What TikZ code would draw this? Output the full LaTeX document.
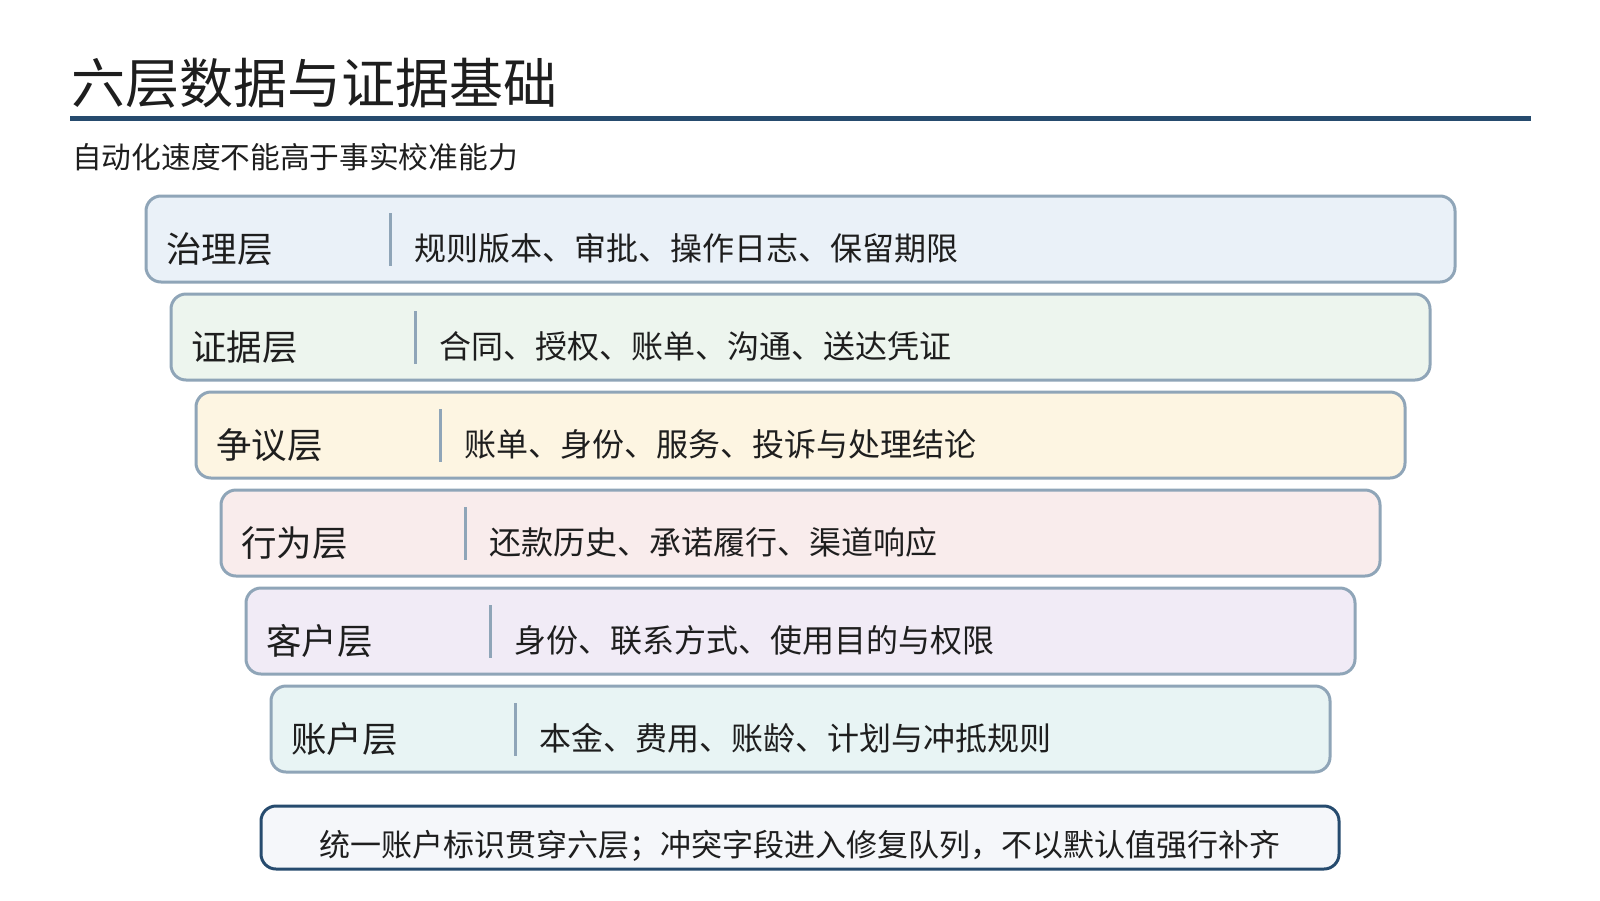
\documentclass[tikz,border=0pt]{standalone}
\usepackage{fontspec}
\newfontfamily\cjk{Noto Sans CJK SC}
\definecolor{rulec}{HTML}{264B6E}
\definecolor{edgec}{HTML}{8FA5B8}
\definecolor{txt}{HTML}{1E1E1E}
\definecolor{f1}{HTML}{EAF1F8}
\definecolor{f2}{HTML}{EDF5EE}
\definecolor{f3}{HTML}{FDF5E2}
\definecolor{f4}{HTML}{F9ECEC}
\definecolor{f5}{HTML}{F1EBF6}
\definecolor{f6}{HTML}{E8F4F4}
\definecolor{fb}{HTML}{F5F7FA}
\tikzset{
  layerbox/.style={draw=edgec, line width=3pt, rounded corners=15pt, inner sep=0pt, outer sep=0pt, anchor=north west, minimum height=86pt},
  labeltxt/.style={font=\cjk\fontsize{35.5}{40}\selectfont, text=txt, inner sep=0pt, anchor=base west},
  contenttxt/.style={font=\cjk\fontsize{32}{38}\selectfont, text=txt, inner sep=0pt, anchor=base west},
  divline/.style={draw=edgec, line width=3pt},
}
\begin{document}
\begin{tikzpicture}[x=1pt,y=-1pt]
\useasboundingbox (0,0) rectangle (1600,900);
\fill[white] (0,0) rectangle (1600,900);
% title
\node[font=\cjk\fontsize{54}{64}\selectfont, text=txt, inner sep=0pt, anchor=base west] (title) at (71,103.5) {六层数据与证据基础};
\coordinate (ruleL) at (70,118.5);
\coordinate (ruleR) at (1531,118.5);
\draw[rulec, line width=5pt] (ruleL) -- (ruleR);
\node[font=\cjk\fontsize{29.7}{36}\selectfont, text=txt, inner sep=0pt, anchor=base west] (subtitle) at (72,168) {自动化速度不能高于事实校准能力};
% layers
\foreach \i/\fc/\lab/\cont in {
  0/f1/治理层/{规则版本、审批、操作日志、保留期限},
  1/f2/证据层/{合同、授权、账单、沟通、送达凭证},
  2/f3/争议层/{账单、身份、服务、投诉与处理结论},
  3/f4/行为层/{还款历史、承诺履行、渠道响应},
  4/f5/客户层/{身份、联系方式、使用目的与权限},
  5/f6/账户层/{本金、费用、账龄、计划与冲抵规则}}{
  \pgfmathsetmacro{\lx}{146+25*\i}
  \pgfmathsetmacro{\ty}{196+98*\i}
  \pgfmathsetmacro{\bw}{1309-50*\i}
  \node[layerbox, fill=\fc, minimum width=\bw pt] (box\i) at (\lx,\ty) {};
  \coordinate (dt\i) at (\lx+244,\ty+17);
  \coordinate (db\i) at (\lx+244,\ty+70);
  \draw[divline] (dt\i) -- (db\i);
  \node[labeltxt] (lab\i) at (\lx+20,\ty+66) {\lab};
  \node[contenttxt] (cont\i) at (\lx+268,\ty+64.5) {\cont};
}
% bottom note
\node[draw=rulec, fill=fb, line width=3pt, rounded corners=15pt, inner sep=0pt, outer sep=0pt, anchor=north west, minimum width=1078pt, minimum height=63pt] (note) at (261,806) {};
\node[font=\cjk\fontsize{31}{36}\selectfont, text=txt, inner sep=0pt, anchor=base] (notetxt) at (799.5,856) {统一账户标识贯穿六层；冲突字段进入修复队列，不以默认值强行补齐};
\end{tikzpicture}
\end{document}
